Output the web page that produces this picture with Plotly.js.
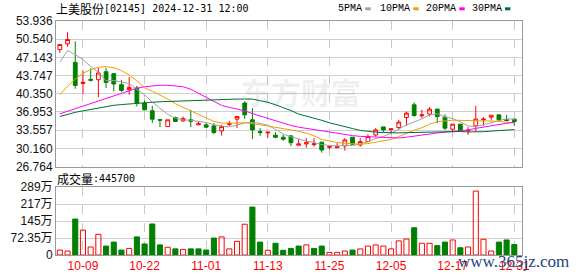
<!DOCTYPE html>
<html><head><meta charset="utf-8">
<script src="https://cdn.plot.ly/plotly-3.0.1.min.js"></script>
<style>html,body{margin:0;padding:0;background:#fff}#c{width:578px;height:276px}</style>
</head><body><div id="c"></div>
<script>
const dates = ['10-04','10-07','10-08','10-09','10-10','10-14','10-15','10-16','10-17','10-18','10-21','10-22','10-23','10-24','10-25','10-28','10-29','10-30','10-31','11-01','11-04','11-05','11-06','11-07','11-08','11-11','11-12','11-13','11-14','11-15','11-18','11-19','11-20','11-21','11-22','11-25','11-26','11-27','11-28','11-29','12-02','12-03','12-04','12-05','12-06','12-09','12-10','12-11','12-12','12-13','12-16','12-17','12-18','12-19','12-20','12-23','12-24','12-27','12-30','12-31'];
const openP = [48.60,49.66,46.21,42.28,43.03,42.97,44.47,44.10,42.04,41.10,41.42,38.61,37.16,35.51,34.22,35.91,35.29,35.48,34.54,34.54,34.35,33.41,34.60,35.61,38.61,35.48,33.28,33.04,32.61,32.23,32.48,30.73,30.98,30.85,31.30,30.36,30.29,30.60,32.23,30.79,31.41,32.66,34.16,33.66,34.03,35.91,38.29,36.23,36.54,37.48,35.98,33.73,34.67,33.43,34.35,35.48,35.98,36.41,35.48,35.61];
const highP = [49.53,51.84,50.15,44.71,45.09,45.17,45.17,44.20,42.97,43.48,41.85,39.09,38.10,35.55,35.48,36.09,36.09,37.35,35.16,34.86,34.86,34.54,35.29,36.09,38.91,37.67,33.92,33.17,33.17,32.66,32.66,31.86,32.05,32.05,31.41,30.60,31.11,32.05,32.23,32.05,32.80,33.92,34.16,33.79,35.48,37.03,38.72,37.35,37.85,37.50,36.54,34.67,34.67,34.11,38.10,35.98,36.35,36.41,36.41,35.61];
const lowP = [47.98,49.10,41.29,40.35,42.65,39.73,41.42,40.78,40.67,40.16,37.97,37.22,34.86,34.11,34.22,35.10,35.10,34.11,34.54,33.92,32.80,32.53,34.35,33.92,35.66,31.86,32.48,32.07,32.05,31.60,30.60,30.70,30.29,30.47,29.35,29.98,30.17,29.72,30.79,30.47,31.35,32.35,33.17,32.98,33.60,34.35,36.09,35.79,36.09,34.86,33.60,33.17,33.35,32.66,33.29,34.35,35.35,35.16,35.16,34.35];
const closeP = [49.53,50.47,41.90,42.47,42.88,44.23,42.47,42.17,40.97,41.53,38.61,37.35,35.61,35.42,35.48,35.16,35.72,35.23,34.73,34.11,33.10,34.22,34.78,36.09,36.41,33.60,33.10,33.17,32.23,31.86,31.22,30.98,31.22,30.98,29.85,30.47,30.47,31.73,30.92,31.41,32.35,33.60,33.60,33.79,35.05,36.73,36.28,36.41,37.48,36.09,33.92,34.67,33.41,33.51,35.61,35.61,36.35,35.48,35.35,35.16];
const ma5 = [46.25,48.41,47.66,46.72,45.45,44.39,42.79,42.84,42.54,42.27,41.15,40.13,38.81,37.70,36.49,35.80,35.48,35.40,35.26,34.99,34.58,34.28,34.19,34.46,34.92,35.02,34.80,34.47,33.70,32.79,32.32,31.89,31.50,31.25,30.85,30.70,30.60,30.70,30.69,31.00,31.38,32.00,32.38,32.95,33.68,34.55,35.09,35.65,36.39,36.60,36.04,35.71,35.11,34.32,34.22,34.56,34.90,35.31,35.68,35.59];
const ma10 = [40.16,41.75,43.07,44.19,44.85,45.31,45.41,45.22,44.66,43.86,42.77,41.46,40.83,40.12,39.38,38.48,37.80,37.11,36.48,35.74,35.19,34.88,34.80,34.86,34.96,34.80,34.54,34.33,34.08,33.86,33.67,33.34,32.99,32.48,31.82,31.51,31.25,31.10,30.97,30.93,31.04,31.30,31.54,31.82,32.34,32.97,33.55,34.01,34.67,35.14,35.30,35.40,35.38,35.36,35.41,35.30,35.31,35.21,35.00,34.91];
const ma20 = [36.60,37.07,37.54,38.01,38.47,38.94,39.41,39.88,40.35,40.91,41.38,41.66,41.85,41.94,41.94,41.85,41.66,41.19,40.44,39.80,38.98,38.17,37.81,37.49,37.17,36.64,36.17,35.72,35.28,34.80,34.43,34.11,33.89,33.67,33.39,33.15,32.89,32.72,32.53,32.39,32.35,32.32,32.26,32.15,32.08,32.24,32.40,32.56,32.82,33.03,33.17,33.35,33.46,33.59,33.88,34.13,34.43,34.61,34.84,35.02];
const ma30 = [36.10,36.51,36.88,37.16,37.44,37.73,38.01,38.19,38.33,38.47,38.61,38.66,38.76,38.85,38.91,38.98,39.04,39.09,39.13,39.19,39.22,39.28,39.32,39.36,39.36,39.36,39.04,38.76,38.29,37.82,37.21,36.56,36.20,35.82,35.39,34.93,34.53,34.18,33.85,33.51,33.30,33.17,33.11,33.05,33.04,33.09,33.11,33.15,33.24,33.31,33.33,33.35,33.30,33.22,33.19,33.26,33.37,33.44,33.55,33.66];
const volume = [21,17,153,106,34,88,38,55,21,28,77,47,132,43,33,26,24,26,26,21,72,77,26,58,131,204,55,20,50,20,28,38,43,28,38,11,11,17,21,26,38,43,38,26,60,68,116,50,50,40,55,64,31,34,272,67,17,55,64,44.57];
const dateTicks = ['10-09','10-22','11-01','11-13','11-25','12-05','12-17','12-31'];
const priceTicks = [26.764,30.160,33.557,36.953,40.350,43.747,47.143,50.540,53.936];
const volTicks = [0,72.35,144.7,217.05,289.4];
const volTickText = ['0','72.35万','145万','217万','289万'];
const maNames = ['5PMA','10PMA','20PMA','30PMA'];
const maColors = ['#a0a0a0','#f0a000','#ff00ff','#006f30'];

const RED = '#ff0000', GRN = '#008000';
const W = 578, H = 276, L = 56, R = 56, T = 21, B = 21;
const px = x => (x - L) / (W - L - R);
const py = y => (H - B - y) / (H - T - B);

const volUp = closeP.map((c, i) => i === 0 ? true : c >= closeP[i - 1]);

const traces = [
  {type:'candlestick', x:dates, open:openP, high:highP, low:lowP, close:closeP,
   xaxis:'x', yaxis:'y', whiskerwidth:0, hoverinfo:'skip', showlegend:false,
   increasing:{line:{color:RED, width:1}, fillcolor:'rgba(255,255,255,0)'},
   decreasing:{line:{color:GRN, width:1}, fillcolor:GRN}}
];
[ma5, ma10, ma20, ma30].forEach((m, k) => traces.push({
  type:'scatter', mode:'lines', x:dates, y:m, xaxis:'x', yaxis:'y',
  line:{color:maColors[k], width:1}, hoverinfo:'skip', showlegend:false}));
traces.push({type:'bar', x:dates, y:volume, xaxis:'x2', yaxis:'y2', width:0.66,
  marker:{color:volUp.map(u => u ? 'rgba(255,255,255,0)' : GRN),
          line:{color:volUp.map(u => u ? RED : GRN), width:1}},
  hoverinfo:'skip', showlegend:false});

const gridC = '#d0d0d0', frameC = '#9a9a9a';
const tickFont = {family:'Liberation Sans, Arial, Noto Sans CJK SC', size:12, color:'#111'};
const annotations = [
  {text:'上美股份', x:px(55), y:py(8.5), font:{family:'Noto Sans CJK SC', size:12, color:'#000'}},
  {text:'[02145] 2024-12-31 12:00', x:px(103), y:py(8.5), font:{family:'DejaVu Sans Mono', size:10, color:'#000'}},
  {text:'成交量', x:px(56), y:py(178), font:{family:'Noto Sans CJK SC', size:12, color:'#000'}},
  {text:':445700', x:px(92), y:py(178), font:{family:'DejaVu Sans Mono', size:10, color:'#000'}},
  {text:'<b>东方财富</b>', x:px(301), y:py(91), xanchor:'center', font:{family:'Noto Sans CJK SC', size:30, color:'rgba(0,0,0,0.08)'}},
  {text:'www.365jz.com', x:px(513), y:py(261), xanchor:'center', font:{family:'Liberation Serif', size:17, color:'#23457e'}}
];
const legTextX = [337, 379, 425, 471];
const legBoxX = [365.3, 413.3, 459.3, 505];
const shapes = [];
maNames.forEach((n, k) => {
  annotations.push({text:n, x:px(legTextX[k]), y:py(8.7), font:{family:'Liberation Mono', size:10, color:'#000'}});
  shapes.push({type:'rect', xref:'paper', yref:'paper', x0:px(legBoxX[k]), x1:px(legBoxX[k] + 5.4),
    y0:py(10.3), y1:py(7.3), fillcolor:maColors[k], line:{width:0}});
});
annotations.forEach(a => { a.xref = 'paper'; a.yref = 'paper'; a.showarrow = false;
  if (!a.xanchor) a.xanchor = 'left'; a.yanchor = 'middle'; a.borderpad = 0; });

const xBase = {type:'category', range:[-0.5, 60], tickmode:'array', tickvals:dateTicks, ticktext:dateTicks,
  showgrid:true, gridcolor:'#c8c8c8', griddash:'dash', gridwidth:1, zeroline:false,
  showline:true, mirror:true, linecolor:frameC, linewidth:1, ticks:'', fixedrange:true};

const layout = {
  width:W, height:H, margin:{l:L, r:R, t:T, b:B, pad:0},
  paper_bgcolor:'#fff', plot_bgcolor:'#fff', showlegend:false,
  xaxis:Object.assign({}, xBase, {anchor:'y', showticklabels:false, rangeslider:{visible:false}}),
  yaxis:{domain:[py(166.5), 1], range:[26.764, 53.936], tickmode:'array', tickvals:priceTicks,
    ticktext:priceTicks.map(v => v.toFixed(3)), showgrid:true, gridcolor:gridC, zeroline:false,
    showline:true, mirror:true, linecolor:frameC, linewidth:1, ticks:'', tickfont:tickFont, fixedrange:true},
  xaxis2:Object.assign({}, xBase, {anchor:'y2', showticklabels:true,
    tickfont:{family:'Liberation Sans, Arial', size:12, color:RED}}),
  yaxis2:{domain:[0, py(187)], range:[0, 289.4], tickmode:'array', tickvals:volTicks, ticktext:volTickText,
    showgrid:true, gridcolor:gridC, zeroline:false, showline:true, mirror:true, linecolor:frameC,
    linewidth:1, ticks:'', tickfont:tickFont, fixedrange:true},
  bargap:0.3,
  annotations:annotations, shapes:shapes
};
Plotly.newPlot('c', traces, layout, {staticPlot:true, displayModeBar:false});
</script></body></html>
